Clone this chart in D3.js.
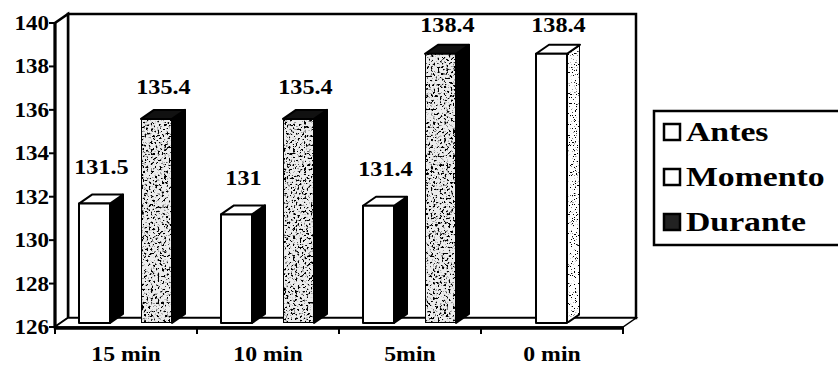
<!DOCTYPE html>
<html>
<head>
<meta charset="utf-8">
<script src="https://cdn.jsdelivr.net/npm/d3@7"></script>
<style>
  html, body { margin: 0; padding: 0; background: #fff; }
  svg { display: block; }
</style>
</head>
<body>
<svg id="chart" width="838" height="366"></svg>
<script>
// ---- data ----
const categories = ["15 min", "10 min", "5min", "0 min"];
const seriesNames = ["Antes", "Momento", "Durante"];
const antes   = [131.5, 131, 131.4, null];
const momento = [null, null, null, 138.4];
const durante = [135.4, 135.4, 138.4, null];
const yTicks  = [126, 128, 130, 132, 134, 136, 138, 140];
const valueLabels = { Antes: ["131.5", "131", "131.4", ""], Momento: ["", "", "", "138.4"], Durante: ["135.4", "135.4", "138.4", ""] };

// ---- layout ----
const svg = d3.select("#chart");
const DX = 13, DY = -9;          // wall depth
const BDX = 13, BDY = -9;        // bar depth
const BAR_LIFT = -4;             // bar front plane offset
const x0 = 55, xEnd = 623;
const y = d3.scaleLinear().domain([126, 140]).range([327, 23]);
const x = d3.scaleBand().domain(categories).range([x0, xEnd]).padding(0);
const inner = d3.scaleBand().domain(seriesNames).range([24, 117]).padding(0);

function font(t, size) {
  return t.style("font-family", '"Liberation Serif"').style("font-weight", "bold").style("font-size", size + "px").attr("fill", "#000");
}
function stretch(t, k) {
  const len = t.node().getComputedTextLength();
  t.attr("textLength", len * k).attr("lengthAdjust", "spacingAndGlyphs");
}

// speckle filters
const defs = svg.append("defs");
function speckle(id, freq, a, b, seed) {
  const f = defs.append("filter").attr("id", id).attr("x", 0).attr("y", 0).attr("width", 1).attr("height", 1);
  f.append("feTurbulence").attr("type", "fractalNoise").attr("baseFrequency", freq).attr("numOctaves", 2).attr("seed", seed).attr("result", "noise");
  f.append("feColorMatrix").attr("in", "noise").attr("type", "matrix")
    .attr("values", `0 0 0 0 0  0 0 0 0 0  0 0 0 0 0  ${a} 0 0 0 ${b}`).attr("result", "dots");
  f.append("feComposite").attr("in", "dots").attr("in2", "SourceGraphic").attr("operator", "in").attr("result", "clipped");
  const m = f.append("feMerge");
  m.append("feMergeNode").attr("in", "SourceGraphic");
  m.append("feMergeNode").attr("in", "clipped");
}
speckle("speck", 0.45, -9, 4.2, 4);
speckle("speckLight", 0.9, -14, 5.4, 7);

// ---- walls ----
const yB = y(126), yT = y(140);
const wall = svg.append("g").attr("fill", "#fff").attr("stroke", "#000").attr("stroke-linejoin", "miter");
wall.append("rect").attr("x", x0 + DX).attr("y", yT + DY).attr("width", xEnd - x0).attr("height", yB - yT).attr("stroke-width", 2.5);
wall.append("polygon").attr("points", [[x0, yB], [x0, yT], [x0 + DX, yT + DY], [x0 + DX, yB + DY]].join(" ")).attr("stroke-width", 2.5);
wall.append("polygon").attr("points", [[x0, yB], [x0 + DX, yB + DY], [xEnd + DX, yB + DY], [xEnd, yB]].join(" ")).attr("stroke-width", 1.5);

// front axes
svg.append("line").attr("x1", x0).attr("x2", x0).attr("y1", yT).attr("y2", yB).attr("stroke", "#000").attr("stroke-width", 3);
svg.append("line").attr("x1", x0).attr("x2", xEnd).attr("y1", yB + 1).attr("y2", yB + 1).attr("stroke", "#000").attr("stroke-width", 3.5);

// y ticks
const yAxis = svg.append("g");
yAxis.selectAll("line").data(yTicks).join("line")
  .attr("x1", x0 - 6).attr("x2", x0).attr("y1", d => y(d)).attr("y2", d => y(d))
  .attr("stroke", "#000").attr("stroke-width", 2);
yAxis.selectAll("text").data(yTicks).join("text")
  .attr("x", x0 - 6).attr("y", d => y(d) + 7).attr("text-anchor", "end").text(d => d)
  .each(function () { const t = d3.select(this); font(t, 20); stretch(t, 1.15); });

// x ticks (category boundaries) and labels
const bounds = categories.map(c => x(c)).concat([xEnd]);
svg.append("g").selectAll("line").data(bounds).join("line")
  .attr("x1", d => d).attr("x2", d => d).attr("y1", yB).attr("y2", yB + 7)
  .attr("stroke", "#000").attr("stroke-width", 2);
svg.append("g").selectAll("text").data(categories).join("text")
  .attr("x", d => x(d) + x.bandwidth() / 2).attr("y", 361).attr("text-anchor", "middle").text(d => d)
  .each(function () { const t = d3.select(this); font(t, 22); stretch(t, 1.08); });

// ---- bars ----
const seriesValues = { Antes: antes, Momento: momento, Durante: durante };
const bars = [];
seriesNames.forEach(s => categories.forEach((c, i) => {
  const v = seriesValues[s][i];
  if (v != null) bars.push({ s, c, v, label: valueLabels[s][i] });
}));
const style = {
  Antes:   { front: "#fff", frontF: null, side: "#000", sideF: null, top: "#fff" },
  Momento: { front: "#fff", frontF: null, side: "#fff", sideF: "url(#speckLight)", top: "#fff" },
  Durante: { front: "#ececec", frontF: "url(#speck)", side: "#000", sideF: null, top: "#111" }
};
bars.sort((a, b) => (x(a.c) + inner(a.s)) - (x(b.c) + inner(b.s)));
const bg = svg.append("g");
bars.forEach(d => {
  const bx0 = x(d.c) + inner(d.s), bx1 = bx0 + inner.bandwidth();
  const ty = y(d.v) + BAR_LIFT, by = yB + BAR_LIFT;
  const st = style[d.s];
  const g = bg.append("g").attr("stroke", "#000").attr("stroke-width", 2).attr("stroke-linejoin", "round");
  g.append("polygon").attr("points", [[bx1, ty], [bx1 + BDX, ty + BDY], [bx1 + BDX, by + BDY], [bx1, by]].join(" "))
    .attr("fill", st.side).attr("filter", st.sideF);
  g.append("polygon").attr("points", [[bx0, ty], [bx0 + BDX, ty + BDY], [bx1 + BDX, ty + BDY], [bx1, ty]].join(" "))
    .attr("fill", st.top);
  g.append("rect").attr("x", bx0).attr("y", ty).attr("width", bx1 - bx0).attr("height", by - ty)
    .attr("fill", st.front).attr("filter", st.frontF);
  const t = svg.append("text").attr("x", (bx0 + bx1) / 2 + 7).attr("y", 0.95 * ty - 19).attr("text-anchor", "middle").text(d.label);
  font(t, 22); stretch(t, 1.1);
});

// ---- legend ----
const lg = svg.append("g");
lg.append("rect").attr("x", 654).attr("y", 111).attr("width", 200).attr("height", 134)
  .attr("fill", "#fff").attr("stroke", "#000").attr("stroke-width", 2.5);
const legendFill = { Antes: ["#fff", null], Momento: ["#fff", null], Durante: ["#222", "url(#speckLight)"] };
const ly = d3.scalePoint().domain(seriesNames).range([132, 222]);
seriesNames.forEach(s => {
  lg.append("rect").attr("x", 664).attr("y", ly(s) - 8).attr("width", 16).attr("height", 16)
    .attr("fill", legendFill[s][0]).attr("stroke", "#000").attr("stroke-width", 2.5);
  const t = lg.append("text").attr("x", 686).attr("y", ly(s) + 9).text(s);
  font(t, 27); stretch(t, 1.25);
});
</script>
</body>
</html>
